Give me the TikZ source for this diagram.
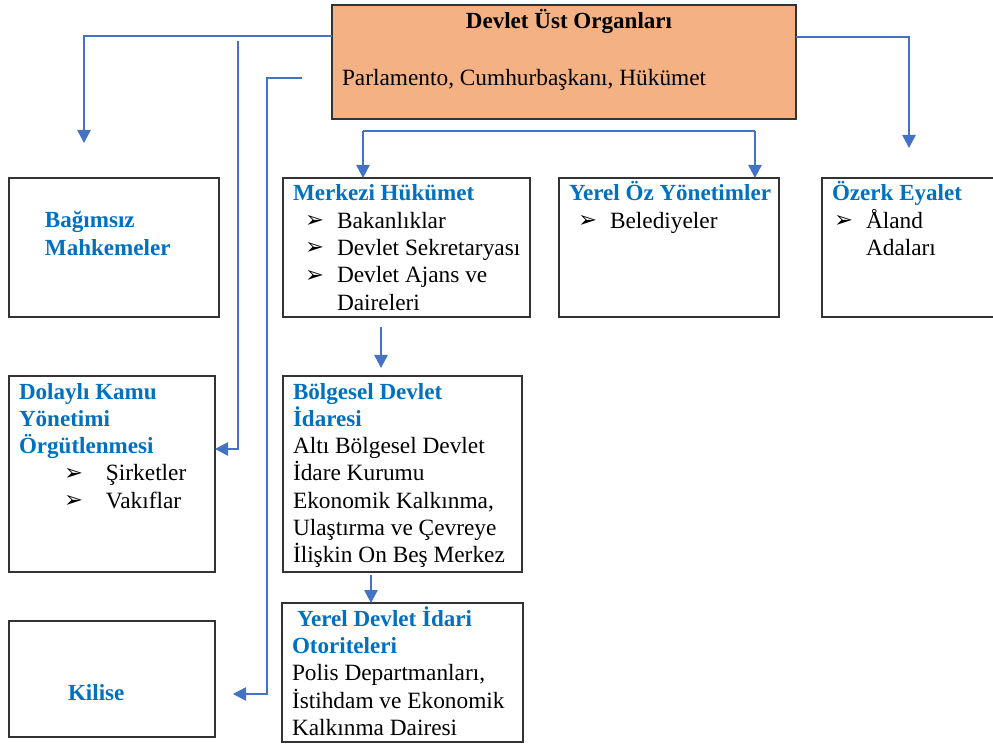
\documentclass[tikz,border=0pt]{standalone}
\usepackage{fontspec}
\setmainfont{Liberation Serif}
\newfontfamily\isaretfont{DejaVu Sans}
\usetikzlibrary{arrows.meta,positioning}
\definecolor{mavi}{HTML}{0070C0}
\definecolor{okrengi}{HTML}{4472C4}
\definecolor{turuncu}{HTML}{F4B183}
\newcommand{\baslik}[1]{\mbox{\color{mavi}\bfseries\fontsize{17.3}{20.5}\selectfont #1}}
\newcommand{\isaret}{\raisebox{0.5pt}{\isaretfont\fontsize{17}{17}\selectfont ➢}}
\newcommand{\madde}[3]{\hspace*{#1}\makebox[#2][l]{\isaret}#3}
\newcommand{\kutuyazi}[4][17.25pt]{\parbox[t][#2][t]{#3}{\leftskip=7.5pt\rule{0pt}{#1}#4}}

\begin{document}
\begin{tikzpicture}[x=0.75pt, y=-0.75pt,
    kutu/.style = {draw=black!80, line width=1.2pt, inner sep=0pt, outer sep=0pt,
                   font=\fontsize{17.5}{20.5}\selectfont},
    baglanti/.style = {draw=okrengi, line width=1.1pt},
    okucu/.style = {baglanti, -{Triangle[width=10pt,length=9.75pt]}}]
\useasboundingbox (0,0) rectangle (993,745);
\node[kutu, fill=turuncu, anchor=north west] (ust) at (332,5)
  {\kutuyazi[18pt]{85.5pt}{348pt}{\hfill{\bfseries\fontsize{17.3}{20.5}\selectfont Devlet Üst Organları}\hfill\null\\[22.25pt]
   Parlamento, Cumhurbaşkanı, Hükümet}};
\begin{scope}[node distance=44.25pt and 48pt]
\node[kutu, anchor=north west] (bag) at (9,178)
  {\kutuyazi[37.5pt]{104.25pt}{157.5pt}{\hspace*{19.5pt}\baslik{Bağımsız}\\
   \hspace*{19.5pt}\baslik{Mahkemeler}}};
\node[kutu, right=48pt of bag] (merkezi)
  {\kutuyazi{104.25pt}{185.25pt}{\baslik{Merkezi Hükümet}\\
   \madde{9pt}{24pt}{Bakanlıklar}\\
   \madde{9pt}{24pt}{Devlet Sekretaryası}\\
   \madde{9pt}{24pt}{Devlet Ajans ve}\\
   \hspace*{33pt}Daireleri}};
\node[kutu, right=21.75pt of merkezi] (yerel)
  {\kutuyazi{104.25pt}{165pt}{\baslik{Yerel Öz Yönetimler}\\
   \madde{6.75pt}{24pt}{Belediyeler}}};
\node[kutu, right=32.25pt of yerel] (ozerk)
  {\kutuyazi{104.25pt}{142.5pt}{\baslik{Özerk Eyalet}\\
   \madde{1.5pt}{24pt}{Åland}\\
   \hspace*{25.5pt}Adaları}};
\node[kutu, below right=44.25pt and 0pt of bag.south west] (dolayli)
  {\kutuyazi{147pt}{154.5pt}{\baslik{Dolaylı Kamu}\\ \baslik{Yönetimi}\\ \baslik{Örgütlenmesi}\\
   \madde{33.75pt}{31.5pt}{Şirketler}\\
   \madde{33.75pt}{31.5pt}{Vakıflar}}};
\node[kutu, below right=36.75pt and 0pt of dolayli.south west] (kilise)
  {\kutuyazi[59.25pt]{87pt}{154.5pt}{\hspace*{36.75pt}\baslik{Kilise}}};
\node[kutu, below right=44.25pt and 0pt of merkezi.south west] (bolgesel)
  {\kutuyazi{147pt}{179.25pt}{\baslik{Bölgesel Devlet}\\ \baslik{İdaresi}\\
   Altı Bölgesel Devlet\\ İdare Kurumu\\ Ekonomik Kalkınma,\\
   Ulaştırma ve Çevreye\\ İlişkin On Beş Merkez}};
\node[kutu, below right=23.25pt and -0.75pt of bolgesel.south west] (yidare)
  {\kutuyazi{104.25pt}{180.75pt}{\hspace*{3.75pt}\baslik{Yerel Devlet İdari}\\ \baslik{Otoriteleri}\\
   Polis Departmanları,\\ İstihdam ve Ekonomik\\ Kalkınma Dairesi}};
\end{scope}
% baglantilar
\coordinate (okbag) at (84,143);
\coordinate (okoz) at (909,148);
\coordinate (dolbas) at (238,41);
\coordinate (kilbas) at (302,78);
\coordinate (kilok) at (233,694);
\coordinate (catalsol) at (363,131);
\coordinate (catalsag) at (755,131);
\draw[okucu] (ust.west |- 0,36) -| (okbag);
\draw[okucu] (ust.east |- 0,37) -| (okoz);
\draw[okucu] (dolbas) |- (dolayli.east |- 0,449);
\draw[okucu] (kilbas) -- ++(-35,0) |- (kilok);
\draw[baglanti] (catalsol) -- (catalsag);
\draw[okucu] (catalsol) -- (catalsol |- merkezi.north);
\draw[okucu] (catalsag) -- (catalsag |- yerel.north);
\draw[okucu] ([xshift=73.5pt,yshift=-7.5pt]merkezi.south west) -- ([xshift=73.5pt,yshift=6pt]bolgesel.north west);
\draw[okucu] ([xshift=66pt,yshift=-2.25pt]bolgesel.south west) -- ([xshift=66.75pt]yidare.north west);
\end{tikzpicture}
\end{document}
